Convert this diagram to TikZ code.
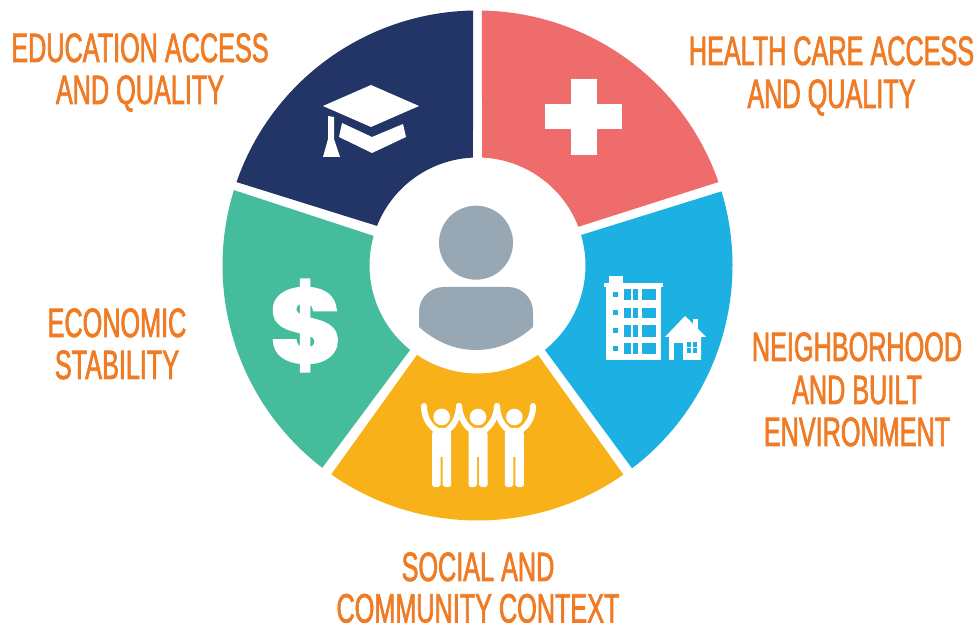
\documentclass[tikz,border=0pt]{standalone}
\usepackage{fontspec}
\newfontfamily\lblfont[FakeStretch=0.615,FakeBold=1.6]{Liberation Sans}
\newfontfamily\dollarfont[BoldFont={Poppins Bold},BoldFeatures={FakeBold=3}]{Poppins}
\definecolor{navy}{HTML}{233466}
\definecolor{rosered}{HTML}{EF6C6C}
\definecolor{skyb}{HTML}{1CB1E2}
\definecolor{amber}{HTML}{F8B119}
\definecolor{teal2}{HTML}{45BD9D}
\definecolor{slate}{HTML}{98A7B4}
\definecolor{lblorange}{HTML}{F07B25}
\tikzset{
  lbl/.style={text=lblorange,inner sep=0pt,anchor=base,font=\lblfont\fontsize{41}{41}\selectfont},
  wedge/.style={draw=none},
  icon/.style={fill=white,draw=none},
  arm/.style={draw=white,line width=6pt,line cap=round,fill=none}
}
% outer start, outer end, inner end, inner start angles
\newcommand{\sector}[5]{%
  \fill[wedge,#1] (#2:255) arc[start angle=#2,end angle=#3,radius=255pt]
   -- (#4:108) arc[start angle=#4,end angle=#5,radius=108pt] -- cycle;}
\begin{document}
\begin{tikzpicture}[x=1pt,y=1pt]
\useasboundingbox (0,0) rectangle (979,628);
\fill[white] (0,0) rectangle (979,628);
\begin{scope}[shift={(477.5,362.5)}]
\sector{navy}{91}{160.9}{158.5}{92.4}
\sector{rosered}{89}{19.1}{21}{87.6}
\sector{skyb}{16.9}{-52.7}{-51.4}{16.4}
\sector{amber}{-55.1}{-125}{-124.1}{-55.9}
\sector{teal2}{232.5}{162.8}{164.1}{231.4}
\end{scope}
% pixel coordinates: (x,628-y)
\begin{scope}[shift={(0,628)},y=-1pt]
% person
\fill[slate] (476,242.7) circle[radius=37pt];
\fill[slate] (419,327) -- (419,312) .. controls (419,298) and (430,287) .. (444,287)
  -- (508,287) .. controls (522,287) and (533,298) .. (533,312) -- (533,327)
  .. controls (516,342) and (497,350) .. (476,350) .. controls (455,350) and (436,342) .. (419,327) -- cycle;
% cap
\fill[icon] (323,106) -- (371,85) -- (419,106) -- (371,127) -- cycle;
\fill[icon] (342,123) -- (372,137) -- (403,124) -- (406,137) -- (372,153) -- (339,137) -- cycle;
\fill[icon] (328,116) -- (334,117) -- (334,139) -- (340,157) -- (323,157) -- (328,139) -- cycle;
% cross
\fill[icon] (571,79) rectangle (597,155);
\fill[icon] (545,104) rectangle (622,129);
% building
\fill[icon] (606,285) rectangle (661,360);
\fill[icon] (604,283) rectangle (662.5,287);
\fill[icon] (609,276) rectangle (623,285);
\foreach \ya/\yb/\yc in {289/300/292,308/318/310,325/337/328,343/354/346}{
  \fill[skyb] (613,\yc) rectangle (618,\yc+5);
  \fill[skyb] (624,\ya) rectangle (631,\yb);
  \fill[skyb] (632.5,\ya) rectangle (638,\yb);
  \fill[skyb] (642,\ya) rectangle (656,\yb);
}
% house
\fill[icon] (693,319) rectangle (698,330);
\fill[icon] (685,316) -- (706,337) -- (701,337) -- (701,360) -- (669,360) -- (669,337) -- (665,337) -- cycle;
\fill[skyb] (674,343) rectangle (683,360);
\fill[skyb] (687,342) rectangle (691.3,347);
\fill[skyb] (692.7,342) rectangle (697,347);
\fill[skyb] (687,348.3) rectangle (691.3,353);
\fill[skyb] (692.7,348.3) rectangle (697,353);
% people
\foreach \cx in {441.7,478,514.3}{
  \fill[icon] (\cx,417) circle[radius=8.3pt];
  \fill[icon] (\cx-9.5,434) .. controls (\cx-9.5,431) and (\cx-8,428) .. (\cx-5,428) -- (\cx+5,428)
    .. controls (\cx+8,428) and (\cx+9.5,431) .. (\cx+9.5,434)
    -- (\cx+9.5,485) .. controls (\cx+9.5,488) and (\cx+2,488) .. (\cx+1,485) -- (\cx+1,457) -- (\cx-1,457)
    -- (\cx-1,485) .. controls (\cx-2,488) and (\cx-9.5,488) .. (\cx-9.5,485) -- cycle;
}
\draw[arm] (424,406) .. controls (424,418) and (430,427) .. (438,431);
\draw[arm] (459,406) .. controls (458.5,418) and (453,427) .. (446,431);
\draw[arm] (459,406) .. controls (460,418) and (466,427) .. (473,431);
\draw[arm] (497,406) .. controls (496.5,418) and (490,427) .. (483,431);
\draw[arm] (497,406) .. controls (497.5,418) and (503,427) .. (510,431);
\draw[arm] (533,406) .. controls (533,418) and (527,427) .. (519,431);
% dollar
\node[text=white,inner sep=0pt] (dollar) at (306.5,325.5)
  {\resizebox{74pt}{82pt}{\dollarfont\bfseries\$}};
% labels
\node[lbl] (l1a) at (140,62) {EDUCATION ACCESS};
\node[lbl] (l1b) at (140,104) {AND QUALITY};
\node[lbl] (l2a) at (831.5,65) {HEALTH CARE ACCESS};
\node[lbl] (l2b) at (831.5,108) {AND QUALITY};
\node[lbl] (l3a) at (117,337) {ECONOMIC};
\node[lbl] (l3b) at (117,379) {STABILITY};
\node[lbl] (l4a) at (857,361) {NEIGHBORHOOD};
\node[lbl] (l4b) at (857,404) {AND BUILT};
\node[lbl] (l4c) at (857,446) {ENVIRONMENT};
\node[lbl] (l5a) at (478,581) {SOCIAL AND};
\node[lbl] (l5b) at (478,622.5) {COMMUNITY CONTEXT};
\end{scope}
\end{tikzpicture}
\end{document}
